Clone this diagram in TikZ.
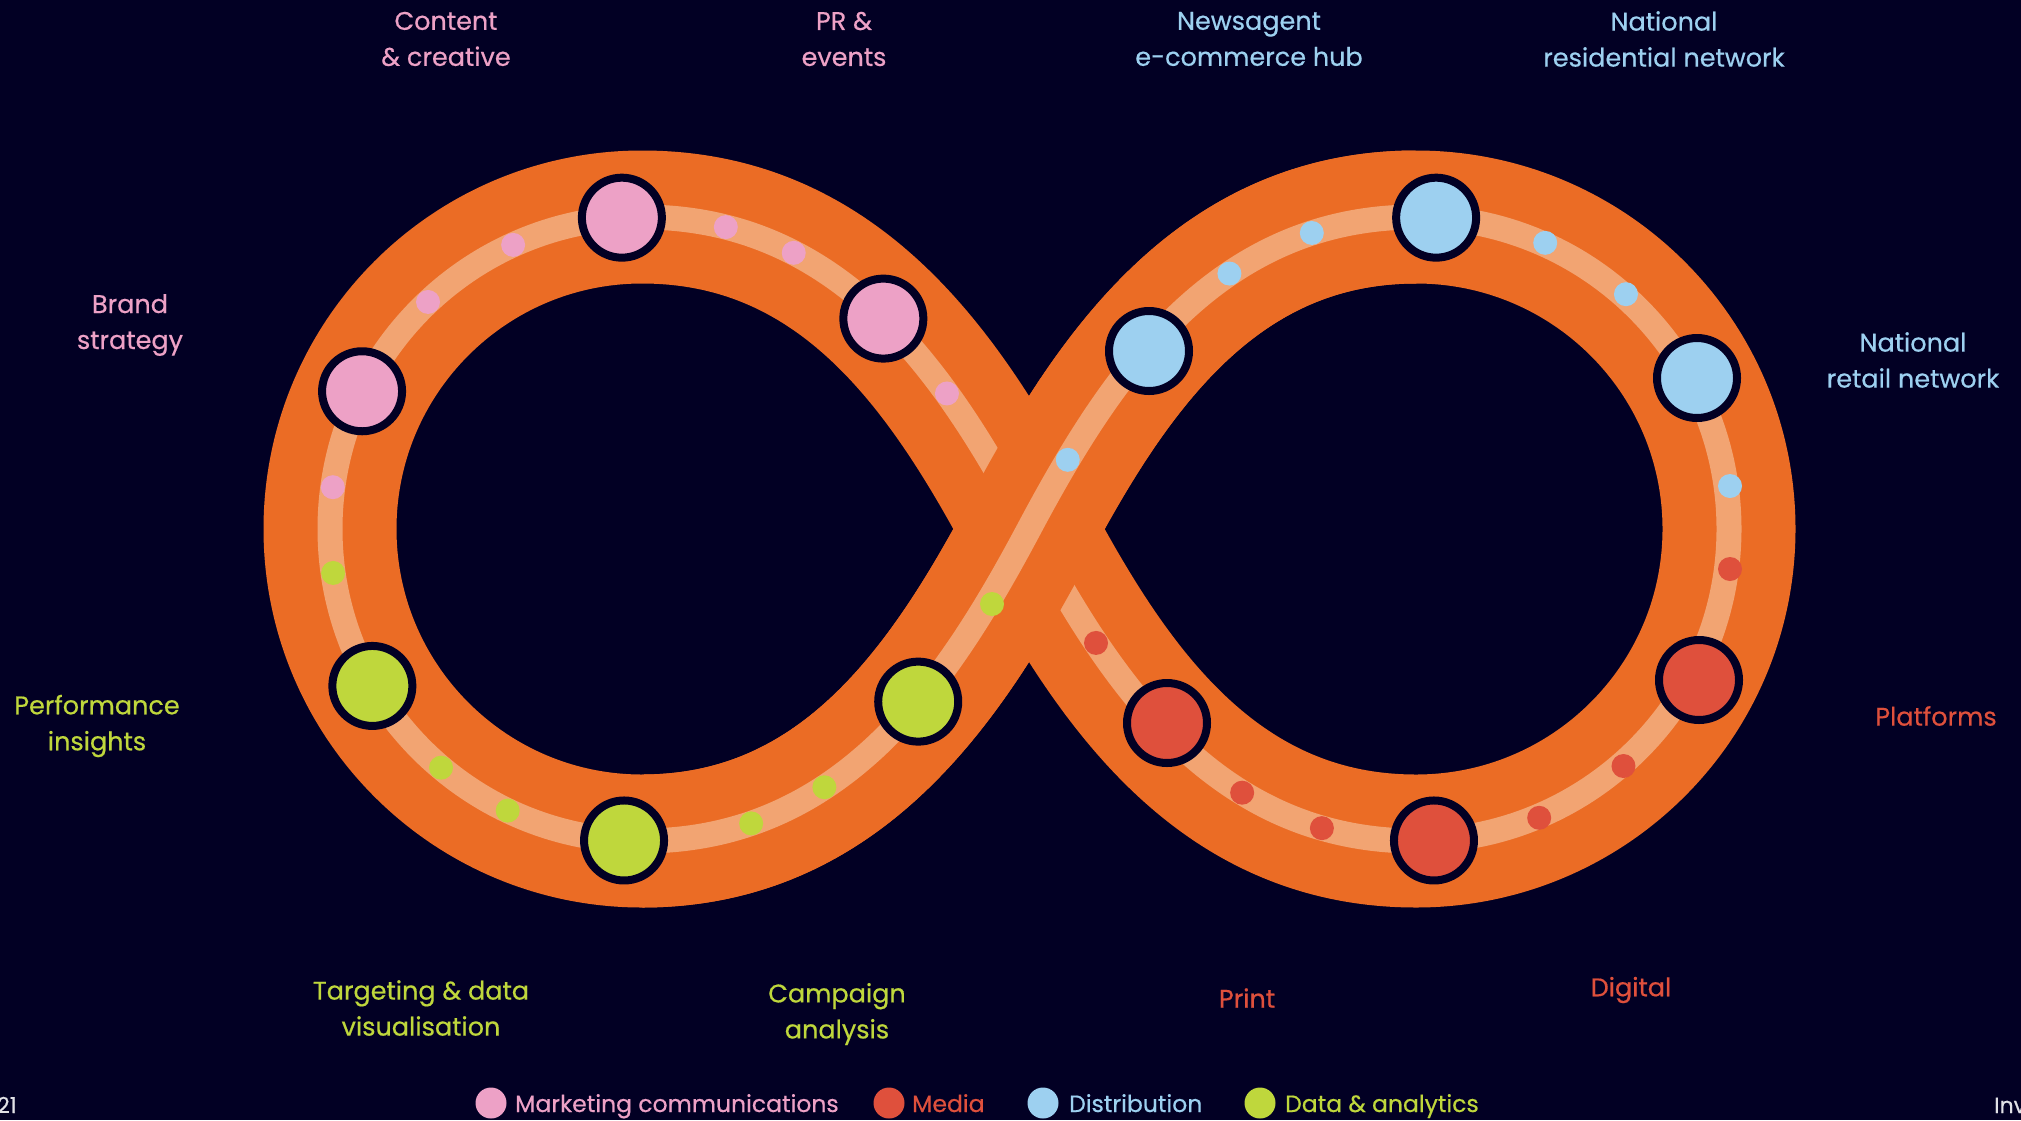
\documentclass[tikz,border=0pt]{standalone}
\usepackage{fontspec}
\setmainfont{Poppins}[FakeBold=0.5]
\usetikzlibrary{calc}
\definecolor{bgnavy}{RGB}{2,0,36}
\definecolor{bandorange}{RGB}{235,108,37}
\definecolor{stripepeach}{RGB}{242,164,114}
\definecolor{mcpink}{RGB}{237,161,198}
\definecolor{mediared}{RGB}{223,80,60}
\definecolor{distblue}{RGB}{157,208,240}
\definecolor{datagreen}{RGB}{191,215,60}
\definecolor{ringnavy}{RGB}{2,0,36}
\definecolor{pagegray}{RGB}{225,225,230}
\begin{document}
\begin{tikzpicture}[x=1pt,y=-1pt,
  bandline/.style={line width=133pt, draw=bandorange, line cap=butt,
     postaction={draw=stripepeach, line width=25pt}},
  bigdot/.style={circle, draw=ringnavy, line width=8pt, minimum size=80pt, inner sep=0pt, outer sep=0pt},
  smalldot/.style={circle, minimum size=24pt, inner sep=0pt, outer sep=0pt},
  lab/.style={align=center, font=\fontsize{25.5}{36}\selectfont, inner sep=0pt},
  legtext/.style={anchor=base west, font=\fontsize{23.5}{28}\selectfont, inner sep=0pt},
  legdot/.style={circle, minimum size=31pt, inner sep=0pt},
  pagetext/.style={font=\fontsize{22}{26}\selectfont, text=pagegray, inner sep=0pt}]

\useasboundingbox (0,0) rectangle (2021,1120);
\clip (0,0) rectangle (2021,1120);
\fill[bgnavy] (0,0) rectangle (2021,1120);

\coordinate (X) at (1029,529);
\coordinate (TL) at (642,217);
\coordinate (LL) at (330,529);
\coordinate (BL) at (642,841);
\coordinate (TR) at (1416,217);
\coordinate (RR) at (1729,529);
\coordinate (BR) at (1416,841);
\coordinate (CL) at (642,529);
\coordinate (CR) at (1416,529);

% whole band
\draw[bandline] (X) .. controls (1111.2,374.5) and (1216,217) .. (TR)
  .. controls (1589,217) and (1729,356.7) .. (RR)
  .. controls (1729,701.3) and (1589,841) .. (BR)
  .. controls (1216,841) and (1111.2,683.5) .. (X)
  .. controls (946.8,374.5) and (842,217) .. (TL)
  .. controls (469.7,217) and (330,356.7) .. (LL)
  .. controls (330,701.3) and (469.7,841) .. (BL)
  .. controls (842,841) and (946.8,683.5) .. (X);
% over-pass
\draw[bandline] (BL) .. controls (842,841) and (946.8,683.5) .. (X)
  .. controls (1111.2,374.5) and (1216,217) .. (TR);

% dots on the crossing curves
\path (X) .. controls (946.8,374.5) and (842,217) .. (TL)
  node[bigdot, fill=mcpink, pos=0.49] (pb3) {}
  node[smalldot, fill=mcpink, pos=0.30] (ps5) {}
  node[smalldot, fill=mcpink, pos=0.71] (ps4) {}
  node[smalldot, fill=mcpink, pos=0.85] (ps3) {};
\path (BL) .. controls (842,841) and (946.8,683.5) .. (X)
  node[smalldot, fill=datagreen, pos=0.20] (gs4) {}
  node[smalldot, fill=datagreen, pos=0.36] (gs5) {}
  node[bigdot, fill=datagreen, pos=0.61] (gb3) {};
\node[smalldot, fill=datagreen] (gs6) at (992,604) {};
\path (X) .. controls (1111.2,374.5) and (1216,217) .. (TR)
  node[smalldot, fill=distblue, pos=0.15] (bs6) {}
  node[smalldot, fill=distblue, pos=0.63] (bs2) {}
  node[smalldot, fill=distblue, pos=0.81] (bs1) {};
\node[bigdot, fill=distblue] (bb2) at (1149,351) {};
\path (BR) .. controls (1216,841) and (1111.2,683.5) .. (X)
  node[smalldot, fill=mediared, pos=0.17] (rs3) {}
  node[smalldot, fill=mediared, pos=0.34] (rs2) {}
  node[smalldot, fill=mediared, pos=0.75] (rs1) {};
\node[bigdot, fill=mediared] (rb1) at (1167,723) {};

% dots on the round parts
\node[bigdot, fill=mcpink] (pb1) at ($(CL)+(-93.7:312)$) {};
\node[bigdot, fill=mcpink] (pb2) at ($(CL)+(-153.8:312)$) {};
\node[smalldot, fill=mcpink] (ps1) at ($(CL)+(-114.4:312)$) {};
\node[smalldot, fill=mcpink] (ps2) at ($(CL)+(-133.3:312)$) {};
\node[smalldot, fill=mcpink] (ps6) at ($(CL)+(-172.3:312)$) {};

\node[bigdot, fill=datagreen] (gb1) at ($(CL)+(149.8:312)$) {};
\node[bigdot, fill=datagreen] (gb2) at ($(CL)+(93.3:312)$) {};
\node[smalldot, fill=datagreen] (gs1) at ($(CL)+(171.9:312)$) {};
\node[smalldot, fill=datagreen] (gs2) at ($(CL)+(130.1:312)$) {};
\node[smalldot, fill=datagreen] (gs3) at ($(CL)+(115.5:312)$) {};

\node[bigdot, fill=distblue] (bb1) at ($(CR)+(-86.3:312)$) {};
\node[bigdot, fill=distblue] (bb3) at (1697,378) {};
\node[smalldot, fill=distblue] (bs3) at ($(CR)+(-65.7:314)$) {};
\node[smalldot, fill=distblue] (bs4) at ($(CR)+(-48.2:315)$) {};
\node[smalldot, fill=distblue] (bs5) at (1730,486) {};

\node[bigdot, fill=mediared] (rb2) at ($(CR)+(86.7:312)$) {};
\node[bigdot, fill=mediared] (rb3) at (1699,680) {};
\node[smalldot, fill=mediared] (rs4) at ($(CR)+(66.9:314)$) {};
\node[smalldot, fill=mediared] (rs5) at ($(CR)+(48.8:315)$) {};
\node[smalldot, fill=mediared] (rs6) at (1730,569) {};

% labels
\node[lab, text=mcpink] (tcont) at (446,39) {Content\\\& creative};
\node[lab, text=mcpink] (tpr) at (844,39) {PR \&\\events};
\node[lab, text=mcpink] (tbrand) at (130,325) {Brand\\strategy};
\node[lab, text=distblue] (tnews) at (1249,39) {Newsagent\\e-commerce hub};
\node[lab, text=distblue] (tres) at (1664,39) {National\\residential network};
\node[lab, text=distblue] (tret) at (1913,360) {National\\retail network};
\node[lab, text=datagreen] (tperf) at (97,726) {Performance\\insights};
\node[lab, text=datagreen] (ttarg) at (421,1008) {Targeting \& data\\visualisation};
\node[lab, text=datagreen] (tcamp) at (837,1014) {Campaign\\analysis};
\node[lab, text=mediared] (tprint) at (1247,998) {Print};
\node[lab, text=mediared] (tdig) at (1631,990) {Digital};
\node[lab, text=mediared] (tplat) at (1936,716) {Platforms};

% legend
\node[legdot, fill=mcpink] (lg1) at (491,1103) {};
\node[legtext, text=mcpink] (lt1) at (515,1112) {Marketing communications};
\node[legdot, fill=mediared] (lg2) at (889,1103) {};
\node[legtext, text=mediared] (lt2) at (912,1112) {Media};
\node[legdot, fill=distblue] (lg3) at (1043,1103) {};
\node[legtext, text=distblue] (lt3) at (1069,1112) {Distribution};
\node[legdot, fill=datagreen] (lg4) at (1260,1103) {};
\node[legtext, text=datagreen] (lt4) at (1285,1112) {Data \& analytics};

% page furniture
\node[pagetext, anchor=base east] (pnum) at (17,1113) {21};
\node[pagetext, anchor=base west] (pfoot) at (1994,1113) {Inv};
\end{tikzpicture}
\end{document}
